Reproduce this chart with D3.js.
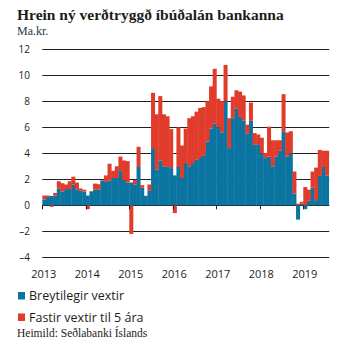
<!DOCTYPE html>
<html>
<head>
<meta charset="utf-8">
<script src="https://cdn.jsdelivr.net/npm/d3@7"></script>
<style>
body { margin: 0; background: #fff; }
</style>
</head>
<body>
<div id="chart"></div>
<script>
// gögn ---------------------------------------------------------------------------------------
const years = ['2013', '2014', '2015', '2016', '2017', '2018', '2019'];
const seriesNames = ['Breytilegir vextir', 'Fastir vextir til 5 ára'];
// Breytilegir vextir, ma.kr. á mánuði (jan 2013 - júl 2019)
const breytilegir = [
  0.45, 0.65, 0.72, 0.75, 1.3, 1.05, 1.25, 1.25, 1.6, 1.2, 1.15, 1.05,
  0.75, 1.05, 1.22, 1.22, 1.9, 1.85, 1.9, 2.1, 2.1, 2.7, 1.95, 1.75,
  1.75, 1.6, 2.95, 1.35, 0.73, 1.15, 4.4, 2.75, 3.45, 3.0, 3.0, 2.86,
  2.3, 2.95, 2.1, 3.25, 3.0, 3.25, 3.5, 3.64, 3.85, 4.9, 5.9, 6.3,
  6.0, 5.6, 8.0, 4.4, 6.7, 7.45, 6.8, 6.5, 5.5, 6.5, 4.65, 4.7,
  4.0, 3.63, 3.75, 3.0, 3.75, 4.2, 5.7, 3.75, 4.0, 0.9, -1.1, 0.12,
  -0.3, 0.35, 1.35, 0.4, 2.26, 2.95, 2.3
];
// Fastir vextir til 5 ára
const fastir = [
  0.3, 0.1, -0.12, 0.2, 0.55, 0.65, 0.35, 0.6, 0.6, 0.55, 0.15, 0.15,
  -0.3, 0.05, 0.45, 0.4, 0.05, 0.45, 1.3, 0.55, 0.9, 1.05, 1.5, 1.65,
  -2.2, 0.35, 1.55, 0.2, 0.0, 0.45, 4.25, 4.25, 4.95, 4.0, 3.85, 3.0,
  -0.6, 3.05, 2.5, 2.65, 3.7, 3.6, 3.7, 3.85, 3.7, 3.1, 3.25, 4.2,
  2.2, 2.4, 2.8, 2.3, 1.65, 1.4, 1.95, 1.95, 0.7, 1.4, 0.9, 0.75,
  1.2, 0.4, 2.3, 2.0, 1.25, 0.8, 2.85, 1.85, 1.7, 1.7, 0.12, 0.15,
  1.4, 0.85, 1.25, 2.5, 2.0, 1.25, 1.9
];
const yTicks = [12, 10, 8, 6, 4, 2, 0, -2, -4];
const colors = ['#0b74a0', '#e03b2b'];

// mánuðir ------------------------------------------------------------------------------------
const months = breytilegir.map((v, i) => years[Math.floor(i / 12)] + '-' + (i % 12 + 1));
const dataset = months.map((m, i) => ({ month: m, b: breytilegir[i], f: fastir[i] }));

// SVG ----------------------------------------------------------------------------------------
const width = 354;
const height = 355;
const left = 42.3;
const monthW = 43.5 / 12;
const svg = d3.select('#chart').append('svg')
.attr('width', width)
.attr('height', height);

const x = d3.scaleBand()
.domain(months)
.range([left, left + monthW * months.length]);
const y = d3.scaleLinear()
.domain([-4, 12])
.range([257.3, 49.3]);
const gridRight = 329.3;

// texti efst ---------------------------------------------------------------------------------
svg.append('text')
.attr('x', 17)
.attr('y', 20)
.attr('font-family', '"Liberation Serif", serif')
.attr('font-weight', 'bold')
.attr('font-size', '15.5px')
.attr('fill', '#1d1d1b')
.text('Hrein ný verðtryggð íbúðalán bankanna');
svg.append('text')
.attr('x', 17)
.attr('y', 35)
.attr('font-family', '"Liberation Serif", serif')
.attr('font-size', '12px')
.attr('fill', '#2a3440')
.text('Ma.kr.');

// hnitalínur ---------------------------------------------------------------------------------
svg.append('g')
.selectAll('line')
.data(yTicks)
.enter()
.append('line')
.attr('x1', left)
.attr('x2', gridRight)
.attr('y1', d => Math.round(y(d)) + 0.5)
.attr('y2', d => Math.round(y(d)) + 0.5)
.attr('stroke', '#222')
.attr('stroke-width', 1.1);
svg.append('g')
.selectAll('text')
.data(yTicks)
.enter()
.append('text')
.attr('x', 30)
.attr('y', d => y(d) + 3.5)
.attr('text-anchor', 'end')
.attr('font-family', '"Open Sans", sans-serif')
.attr('font-size', '10px')
.attr('fill', '#1d1d1b')
.text(d => d < 0 ? '–' + Math.abs(d) : String(d));

// súlur --------------------------------------------------------------------------------------
const stack = d3.stack()
.keys(['b', 'f'])
.offset(d3.stackOffsetDiverging);
const series = stack(dataset);
svg.append('g')
.selectAll('g')
.data(series)
.enter()
.append('g')
.attr('fill', (d, i) => colors[i])
.selectAll('rect')
.data(d => d)
.enter()
.append('rect')
.attr('x', d => x(d.data.month))
.attr('width', x.bandwidth() + 0.4)
.attr('y', d => y(Math.max(d[0], d[1])))
.attr('height', d => Math.abs(y(d[0]) - y(d[1])));

// ártöl og merki -----------------------------------------------------------------------------
const yearStarts = years.map((yr, i) => months[i * 12]);
svg.append('g')
.selectAll('line')
.data(yearStarts)
.enter()
.append('line')
.attr('x1', d => Math.round(x(d)) + 0.5)
.attr('x2', d => Math.round(x(d)) + 0.5)
.attr('y1', y(0))
.attr('y2', y(0) + 4)
.attr('stroke', '#1d1d1b');
svg.append('g')
.selectAll('text')
.data(years)
.enter()
.append('text')
.attr('x', (d, i) => x(months[i * 12]) + 1.5)
.attr('y', 278)
.attr('text-anchor', 'middle')
.attr('font-family', '"Open Sans", sans-serif')
.attr('font-size', '11px')
.attr('fill', '#1d1d1b')
.text(d => d);

// skýringar ----------------------------------------------------------------------------------
const legend = svg.append('g')
.selectAll('g')
.data(seriesNames)
.enter()
.append('g')
.attr('transform', (d, i) => 'translate(18,' + (292 + 21.5 * i) + ')');
legend.append('rect')
.attr('width', 7)
.attr('height', 7.5)
.attr('fill', (d, i) => colors[i]);
legend.append('text')
.attr('x', 11)
.attr('y', 8.3)
.attr('font-family', '"Open Sans", sans-serif')
.attr('font-size', '12.5px')
.attr('fill', '#1d1d1b')
.text(d => d);

svg.append('text')
.attr('x', 17)
.attr('y', 337)
.attr('font-family', '"Liberation Serif", serif')
.attr('font-size', '11.5px')
.attr('fill', '#1d1d1b')
.text('Heimild: Seðlabanki Íslands');
</script>
</body>
</html>
